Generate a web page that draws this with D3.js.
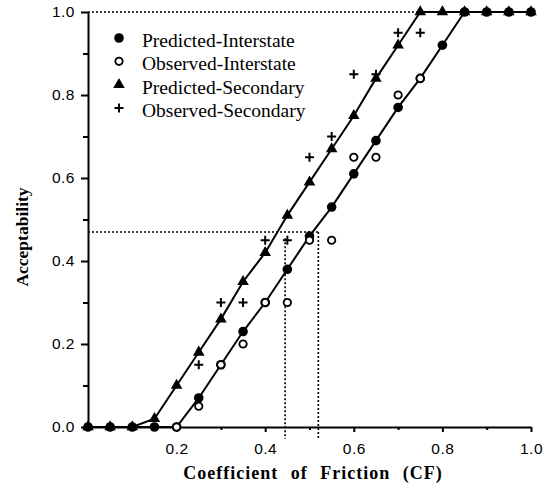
<!DOCTYPE html>
<html>
<head>
<meta charset="utf-8">
<script src="https://cdn.jsdelivr.net/npm/d3@7"></script>
<style>
  body { margin: 0; background: #fff; }
  svg { display: block; }
</style>
</head>
<body>
<div id="chart"></div>
<script>
// CF values shared by all four series
var cf = [0, 0.05, 0.10, 0.15, 0.20, 0.25, 0.30, 0.35, 0.40, 0.45, 0.50,
          0.55, 0.60, 0.65, 0.70, 0.75, 0.80, 0.85, 0.90, 0.95, 1.0];

// null = no visible mark in the figure (hidden under another series)
var predictedInterstate = [0, 0, 0, 0, 0, 0.07, 0.15, 0.23, 0.30, 0.38, 0.46,
                           0.53, 0.61, 0.69, 0.77, 0.84, 0.92, 1.0, 1.0, 1.0, 1.0];
var observedInterstate  = [null, null, null, null, 0, 0.05, 0.15, 0.20, 0.30, 0.30, 0.45,
                           0.45, 0.65, 0.65, 0.80, 0.84, null, null, null, null, null];
var predictedSecondary  = [0, 0, 0, 0.02, 0.10, 0.18, 0.26, 0.35, 0.42, 0.51, 0.59,
                           0.67, 0.75, 0.84, 0.92, 1.0, 1.0, 1.0, 1.0, 1.0, 1.0];
var observedSecondary   = [null, null, null, null, null, 0.15, 0.30, 0.30, 0.45, 0.45, 0.65,
                           0.70, 0.85, 0.85, 0.95, 0.95, null, null, null, null, null];

var xTicks = [0.2, 0.4, 0.6, 0.8, 1.0];
var yTicks = [0.0, 0.2, 0.4, 0.6, 0.8, 1.0];
var legendNames = ["Predicted-Interstate", "Observed-Interstate",
                   "Predicted-Secondary", "Observed-Secondary"];

// dotted guide: acceptability level and the two CF readings
var guideLevel = 0.47;
var guideCF = [0.445, 0.52];

var W = 548, H = 490;
var x = d3.scaleLinear().domain([0, 1]).range([88, 531]);
var y = d3.scaleLinear().domain([0, 1]).range([427, 12]);

var svg = d3.select("#chart").append("svg")
  .attr("width", W)
  .attr("height", H);

function pts(vals) {
  return cf.map(function(c, i){ return [c, vals[i]]; })
           .filter(function(p){ return p[1] !== null; });
}

// dotted reference lines
var dots = svg.append("g")
  .attr("fill", "none")
  .attr("stroke", "#000")
  .attr("stroke-width", 1.6)
  .attr("stroke-dasharray", "2,2");
dots.append("line")
  .attr("x1", x(0)).attr("x2", x(0.75))
  .attr("y1", y(1)).attr("y2", y(1));
dots.append("line")
  .attr("x1", x(0)).attr("x2", x(guideCF[1]))
  .attr("y1", y(guideLevel)).attr("y2", y(guideLevel));
dots.selectAll(".v")
  .data(guideCF)
  .enter()
  .append("line")
  .attr("x1", function(d){ return x(d); })
  .attr("x2", function(d){ return x(d); })
  .attr("y1", function(d, i){ return y(i == 0 ? 0.455 : guideLevel); })
  .attr("y2", y(0) + 12);

// axes
var xAxis = svg.append("g")
  .attr("transform", "translate(0," + y(0) + ")")
  .call(d3.axisBottom(x).tickValues(xTicks).tickSize(5).tickSizeOuter(0)
        .tickFormat(d3.format(".1f")));
xAxis.append("g")
  .call(d3.axisBottom(x).tickValues(d3.range(0.1, 1.0, 0.2)).tickSize(3).tickFormat(""))
  .select(".domain").remove();

var yAxis = svg.append("g")
  .attr("transform", "translate(" + x(0) + ",0)")
  .call(d3.axisLeft(y).tickValues(yTicks).tickSize(7).tickSizeOuter(0)
        .tickFormat(d3.format(".1f")));
yAxis.append("g")
  .call(d3.axisLeft(y).tickValues(d3.range(0.1, 1.0, 0.2)).tickSize(5).tickFormat(""))
  .select(".domain").remove();

svg.selectAll(".domain, .tick line")
  .attr("stroke", "#000")
  .attr("stroke-width", 2);
svg.selectAll(".tick text")
  .attr("fill", "#000")
  .style("font-family", "Liberation Sans, Arial, sans-serif")
  .style("font-size", "15.5px")
  .style("letter-spacing", "0.5px");
xAxis.selectAll(".tick text").attr("y", 16);
yAxis.selectAll(".tick text").attr("x", -13);

// axis titles
svg.append("text")
  .attr("x", 313)
  .attr("y", 479)
  .attr("text-anchor", "middle")
  .style("font-family", "Liberation Serif, Times New Roman, serif")
  .style("font-weight", "bold")
  .style("font-size", "18px")
  .style("letter-spacing", "1px")
  .style("word-spacing", "7px")
  .text("Coefficient of Friction (CF)");

svg.append("text")
  .attr("transform", "translate(28,237) rotate(-90)")
  .attr("text-anchor", "middle")
  .style("font-family", "Liberation Serif, Times New Roman, serif")
  .style("font-weight", "bold")
  .style("font-size", "17.5px")
  .text("Acceptability");

// fitted lines through predicted values
var line = d3.line()
  .x(function(d){ return x(d[0]); })
  .y(function(d){ return y(d[1]); });

[predictedSecondary, predictedInterstate].forEach(function(s){
  svg.append("path")
    .datum(pts(s))
    .attr("d", line)
    .attr("fill", "none")
    .attr("stroke", "#000")
    .attr("stroke-width", 2);
});

var tri = d3.symbol().type(d3.symbolTriangle).size(58);

function drawMarker(sel, kind) {
  if (kind == 0) {
    sel.append("circle").attr("r", 4.8).attr("fill", "#000");
  } else if (kind == 1) {
    sel.append("circle").attr("r", 3.7).attr("fill", "#fff")
      .attr("stroke", "#000").attr("stroke-width", 1.8);
  } else if (kind == 2) {
    sel.append("path").attr("d", tri).attr("fill", "#000");
  } else {
    sel.append("path").attr("d", "M-4.5,0H4.5M0,-4.5V4.5")
      .attr("stroke", "#000").attr("stroke-width", 2);
  }
}

var series = [predictedSecondary, observedSecondary, predictedInterstate, observedInterstate];
var kinds = [2, 3, 0, 1];
series.forEach(function(s, k){
  svg.append("g")
    .selectAll("g")
    .data(pts(s))
    .enter()
    .append("g")
    .attr("transform", function(d){ return "translate(" + x(d[0]) + "," + y(d[1]) + ")"; })
    .each(function(){ drawMarker(d3.select(this), kinds[k]); });
});

// legend
var legend = svg.append("g")
  .attr("transform", "translate(119,42)");
var rows = legend.selectAll("g")
  .data(legendNames)
  .enter()
  .append("g")
  .attr("transform", function(d, i){ return "translate(0," + (i * 23.3) + ")"; });
rows.each(function(d, i){
  var m = d3.select(this).append("g").attr("transform", "translate(0,-4)");
  drawMarker(m, i);
});
rows.append("text")
  .attr("x", 23)
  .attr("y", 5)
  .style("font-family", "Liberation Serif, Times New Roman, serif")
  .style("font-size", "19.5px")
  .text(function(d){ return d; });
</script>
</body>
</html>
